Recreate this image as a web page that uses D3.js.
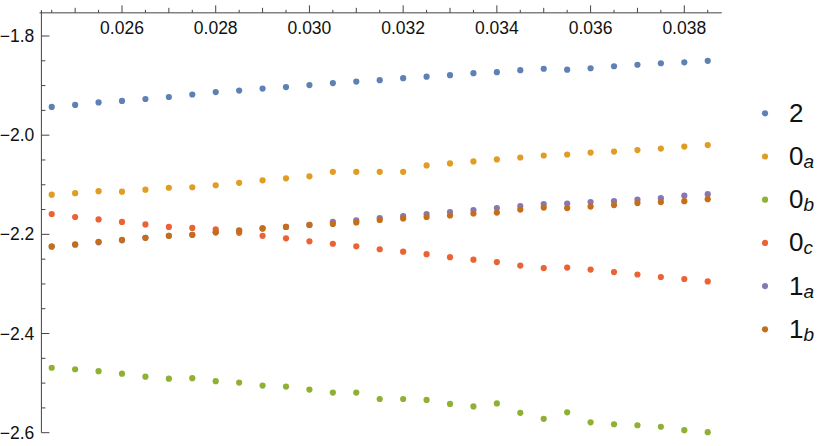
<!DOCTYPE html>
<html>
<head>
<meta charset="utf-8">
<script src="https://cdn.jsdelivr.net/npm/d3@7"></script>
<style>
body { margin: 0; background: #fff; }
svg { display: block; font-family: "Liberation Sans", Arial, sans-serif; }
</style>
</head>
<body>
<div id="chartArea"></div>
<script>
var xs = [0.0245, 0.0250, 0.0255, 0.0260, 0.0265, 0.0270, 0.0275, 0.0280, 0.0285, 0.0290,
          0.0295, 0.0300, 0.0305, 0.0310, 0.0315, 0.0320, 0.0325, 0.0330, 0.0335, 0.0340,
          0.0345, 0.0350, 0.0355, 0.0360, 0.0365, 0.0370, 0.0375, 0.0380, 0.0385];

var s2  = [-1.943,-1.939,-1.934,-1.931,-1.927,-1.923,-1.918,-1.913,-1.910,-1.906,
           -1.903,-1.899,-1.895,-1.892,-1.889,-1.885,-1.882,-1.879,-1.875,-1.873,
           -1.869,-1.866,-1.868,-1.865,-1.861,-1.858,-1.855,-1.853,-1.850];
var s0a = [-2.120,-2.117,-2.113,-2.114,-2.110,-2.106,-2.105,-2.101,-2.096,-2.091,
           -2.087,-2.083,-2.074,-2.074,-2.074,-2.074,-2.061,-2.057,-2.053,-2.049,
           -2.045,-2.041,-2.039,-2.035,-2.033,-2.030,-2.027,-2.023,-2.020];
var s0b = [-2.469,-2.472,-2.476,-2.481,-2.487,-2.491,-2.490,-2.496,-2.499,-2.505,
           -2.507,-2.513,-2.519,-2.519,-2.532,-2.532,-2.534,-2.542,-2.547,-2.541,
           -2.560,-2.572,-2.559,-2.579,-2.583,-2.585,-2.588,-2.595,-2.599];
var s0c = [-2.159,-2.165,-2.170,-2.175,-2.180,-2.185,-2.187,-2.190,-2.197,-2.203,
           -2.208,-2.214,-2.219,-2.224,-2.230,-2.235,-2.240,-2.246,-2.251,-2.256,
           -2.263,-2.268,-2.267,-2.271,-2.276,-2.281,-2.286,-2.290,-2.295];
var s1a = [-2.225,-2.221,-2.216,-2.212,-2.207,-2.203,-2.201,-2.196,-2.192,-2.188,
           -2.185,-2.181,-2.175,-2.172,-2.167,-2.163,-2.159,-2.155,-2.151,-2.147,
           -2.143,-2.139,-2.138,-2.135,-2.133,-2.130,-2.127,-2.122,-2.119];
var s1b = [-2.224,-2.220,-2.215,-2.211,-2.207,-2.203,-2.201,-2.196,-2.193,-2.188,
           -2.185,-2.181,-2.179,-2.176,-2.171,-2.168,-2.165,-2.162,-2.158,-2.156,
           -2.150,-2.146,-2.147,-2.144,-2.141,-2.137,-2.135,-2.133,-2.129];

var names = ["2", "0a", "0b", "0c", "1a", "1b"];
var colors = ["#5E81B5", "#E19C24", "#8FB032", "#EB6235", "#8778B3", "#C56E1A"];
var seriesVals = [s2, s0a, s0b, s0c, s1a, s1b];

var xMajor = [0.026, 0.028, 0.030, 0.032, 0.034, 0.036, 0.038];
var xMid = [0.025, 0.027, 0.029, 0.031, 0.033, 0.035, 0.037];
var yMajor = [-1.8, -2.0, -2.2, -2.4, -2.6];

var width = 830, height = 446;

var x = d3.scaleLinear().domain([0.026, 0.038]).range([122, 684.3]);
var y = d3.scaleLinear().domain([-1.8, -2.6]).range([36, 432.7]);

var xAxisAt = -1.7533, yAxisAt = 0.02428;

var svg = d3.select("#chartArea").append("svg")
    .attr("width", width)
    .attr("height", height);

var axisColor = "#444";

// axis lines
svg.append("line")
    .attr("x1", x(0.02424)).attr("x2", x(0.0388))
    .attr("y1", y(xAxisAt)).attr("y2", y(xAxisAt))
    .attr("stroke", axisColor).attr("stroke-width", 1);
svg.append("line")
    .attr("x1", x(yAxisAt)).attr("x2", x(yAxisAt))
    .attr("y1", y(-1.7476)).attr("y2", y(-2.6))
    .attr("stroke", axisColor).attr("stroke-width", 1);

// x ticks (pointing up)
var xMinor = d3.range(49, 78, 1).map(function(k) { return k / 2000; });
svg.selectAll(".xt").data(xMinor).enter().append("line")
    .attr("x1", function(d) { return x(d); })
    .attr("x2", function(d) { return x(d); })
    .attr("y1", y(xAxisAt))
    .attr("y2", function(d) {
        var len = 3;
        if (xMid.some(function(v) { return Math.abs(v - d) < 1e-7; })) len = 5;
        if (xMajor.some(function(v) { return Math.abs(v - d) < 1e-7; })) len = 7.5;
        return y(xAxisAt) - len;
    })
    .attr("stroke", axisColor).attr("stroke-width", 1);

svg.selectAll(".xl").data(xMajor).enter().append("text")
    .attr("x", function(d) { return x(d); })
    .attr("y", 34)
    .attr("text-anchor", "middle")
    .attr("font-size", 17.5)
    .attr("fill", "#111")
    .text(function(d) { return d3.format(".3f")(d); });

// y ticks (pointing right)
var yMinor = d3.range(36, 53, 1).map(function(k) { return -k / 20; });
svg.selectAll(".yt").data(yMinor).enter().append("line")
    .attr("y1", function(d) { return y(d); })
    .attr("y2", function(d) { return y(d); })
    .attr("x1", x(yAxisAt))
    .attr("x2", function(d) {
        var major = yMajor.some(function(v) { return Math.abs(v - d) < 1e-7; });
        return x(yAxisAt) + (major ? 8 : 4);
    })
    .attr("stroke", axisColor).attr("stroke-width", 1);

svg.selectAll(".yl").data(yMajor).enter().append("text")
    .attr("x", 34.3)
    .attr("y", function(d) { return y(d) + 6; })
    .attr("text-anchor", "end")
    .attr("font-size", 17.5)
    .attr("fill", "#111")
    .text(function(d) { return d3.format(".1f")(d).replace("-", "\u2212"); });

// points
seriesVals.forEach(function(vals, si) {
    svg.append("g").selectAll("circle")
        .data(vals)
        .enter().append("circle")
        .attr("cx", function(d, i) { return x(xs[i]); })
        .attr("cy", function(d) { return y(d); })
        .attr("r", 3.1)
        .attr("fill", colors[si]);
});

// legend
var legend = svg.append("g");
names.forEach(function(nm, i) {
    var ly = 113.3 + i * 43.2;
    legend.append("circle")
        .attr("cx", 765).attr("cy", ly).attr("r", 3.1)
        .attr("fill", colors[i]);
    var t = legend.append("text")
        .attr("x", 789).attr("y", ly + 8.5)
        .attr("font-size", 26)
        .attr("fill", "#111");
    t.append("tspan").text(nm.charAt(0));
    if (nm.length > 1) {
        t.append("tspan")
            .attr("font-size", 19)
            .attr("font-style", "italic")
            .attr("dy", 3)
            .text(nm.charAt(1));
    }
});
</script>
</body>
</html>
